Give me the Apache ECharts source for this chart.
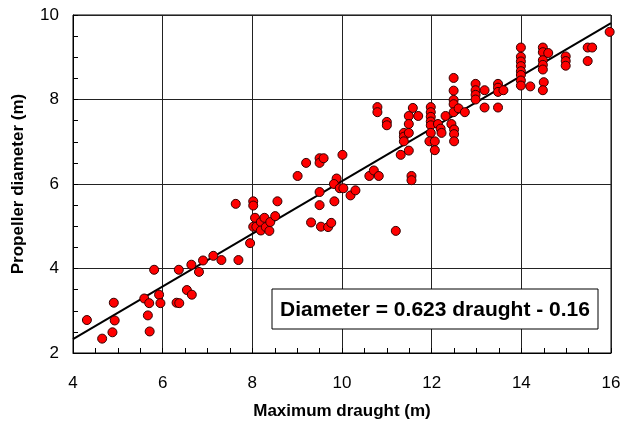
<!DOCTYPE html>
<html>
<head>
<meta charset="utf-8">
<script src="https://cdn.jsdelivr.net/npm/echarts@6/dist/echarts.min.js"></script>
<style>html,body{margin:0;padding:0;background:#fff}#c{width:624px;height:434px}</style>
</head>
<body>
<div id="c"></div>
<script>
var draught = [
4.31,4.65,4.88,4.91,4.93,5.31,5.59,5.67,5.70,5.71,5.81,5.92,5.95,6.31,6.37,6.36,6.54,6.64,6.65,6.81,6.90,7.13,7.31,7.69,7.95,
7.63,8.02,8.02,8.56,8.06,8.02,8.09,8.19,8.27,8.19,8.30,8.38,8.40,8.51,
9.01,9.20,9.50,9.50,9.59,10.01,9.88,9.82,9.95,10.03,9.50,9.50,9.83,10.19,10.30,9.31,9.53,9.69,9.76,
10.79,10.79,11.00,11.00,10.61,10.71,10.82,11.20,11.31,11.38,11.38,11.38,11.49,11.49,11.49,11.49,11.58,11.70,11.55,11.55,
11.98,11.98,11.98,11.98,11.98,11.98,11.95,12.07,12.07,12.14,12.20,12.22,12.31,
12.49,12.49,12.49,12.49,12.49,12.44,12.50,12.50,12.50,12.60,12.74,12.98,12.98,12.98,12.98,
13.18,13.18,13.48,13.48,13.48,13.60,13.48,
13.99,13.99,13.99,13.99,13.99,13.99,13.99,13.99,14.20,
14.48,14.48,14.60,14.48,14.48,14.48,14.50,14.48,
14.99,14.99,14.99,15.48,15.58,15.48,15.97
];
var diameter = [
2.78,2.34,2.49,3.19,2.77,1.98,3.29,2.89,3.18,2.51,3.97,3.38,3.18,3.19,3.18,3.97,3.49,4.09,3.38,3.92,4.19,4.30,4.20,4.20,4.60,
5.53,5.59,5.49,5.59,5.20,4.99,4.99,5.10,5.20,4.90,4.98,4.89,5.10,5.24,
6.19,6.50,6.61,6.50,6.61,6.69,6.13,6.00,5.90,5.90,5.81,5.50,5.59,5.73,5.85,5.09,4.99,4.98,5.08,
7.82,7.70,7.47,7.39,6.19,6.32,6.19,4.89,6.69,7.21,7.12,7.01,7.61,7.42,7.21,6.79,7.80,7.61,6.19,6.09,
7.82,7.70,7.59,7.48,7.39,7.21,7.01,7.01,6.80,7.42,7.31,7.21,7.61,
8.51,8.21,7.99,7.89,7.70,7.42,7.29,7.18,7.01,7.79,7.70,8.37,8.22,8.11,8.00,
8.22,7.81,8.37,8.28,8.18,8.22,7.81,
9.23,9.01,8.90,8.79,8.67,8.58,8.45,8.33,8.31,
9.23,9.12,9.10,8.93,8.82,8.71,8.41,8.22,
9.02,8.91,8.80,9.23,9.23,8.91,9.60
];
var fitX = [4, 16];
var fitY = [2.33, 9.81];
var xTicks = [4, 6, 8, 10, 12, 14, 16];
var yTicks = [2, 4, 6, 8, 10];
var equationText = 'Diameter = 0.623 draught - 0.16';

var pts = draught.map(function (x, i) { return [x, diameter[i]]; });
var fit = fitX.map(function (x, i) { return [x, fitY[i]]; });

var chart = echarts.init(document.getElementById('c'), null, {renderer: 'canvas'});
var font = 'Liberation Sans, Arial, sans-serif';
chart.setOption({
  animation: false,
  backgroundColor: '#fff',
  grid: {left: 73, right: 13, top: 15, bottom: 81, show: true, borderColor: '#000', borderWidth: 1},
  xAxis: {
    type: 'value', min: xTicks[0], max: xTicks[xTicks.length - 1], interval: 2,
    name: 'Maximum draught (m)', nameLocation: 'middle', nameGap: 50,
    nameTextStyle: {fontFamily: font, fontWeight: 'bold', fontSize: 17, color: '#000'},
    axisLine: {lineStyle: {color: '#000'}},
    axisTick: {show: true, inside: true, length: 5, lineStyle: {color: '#000'}},
    minorTick: {show: true, splitNumber: 4, length: 5, lineStyle: {color: '#000'}},
    axisLabel: {fontFamily: font, fontSize: 17, color: '#000', margin: 22},
    splitLine: {show: true, lineStyle: {color: '#222', width: 1}}
  },
  yAxis: {
    type: 'value', min: yTicks[0], max: yTicks[yTicks.length - 1], interval: 2,
    name: 'Propeller diameter (m)', nameLocation: 'middle', nameGap: 46,
    nameTextStyle: {fontFamily: font, fontWeight: 'bold', fontSize: 17, color: '#000'},
    axisLine: {show: true, lineStyle: {color: '#000'}},
    axisTick: {show: true, inside: true, length: 5, lineStyle: {color: '#000'}},
    minorTick: {show: true, splitNumber: 4, length: 5, lineStyle: {color: '#000'}},
    axisLabel: {fontFamily: font, fontSize: 17, color: '#000', margin: 14},
    splitLine: {show: true, lineStyle: {color: '#222', width: 1}}
  },
  series: [
    {
      type: 'line', data: fit, showSymbol: false, symbol: 'none',
      lineStyle: {color: '#000', width: 2}, z: 3
    },
    {
      type: 'scatter', data: pts, symbol: 'circle', symbolSize: 9,
      itemStyle: {color: '#ff0000', borderColor: '#300', borderWidth: 1, opacity: 1}, z: 4
    }
  ],
  graphic: [
    {
      type: 'rect', shape: {x: 272, y: 289, width: 326, height: 40},
      style: {fill: '#fff', stroke: '#000', lineWidth: 1}, z: 10
    },
    {
      type: 'text', x: 435, y: 310,
      style: {text: equationText, fontFamily: font, fontWeight: 'bold', fontSize: 21, fill: '#000', align: 'center', verticalAlign: 'middle'},
      z: 11
    }
  ]
});
</script>
</body>
</html>
